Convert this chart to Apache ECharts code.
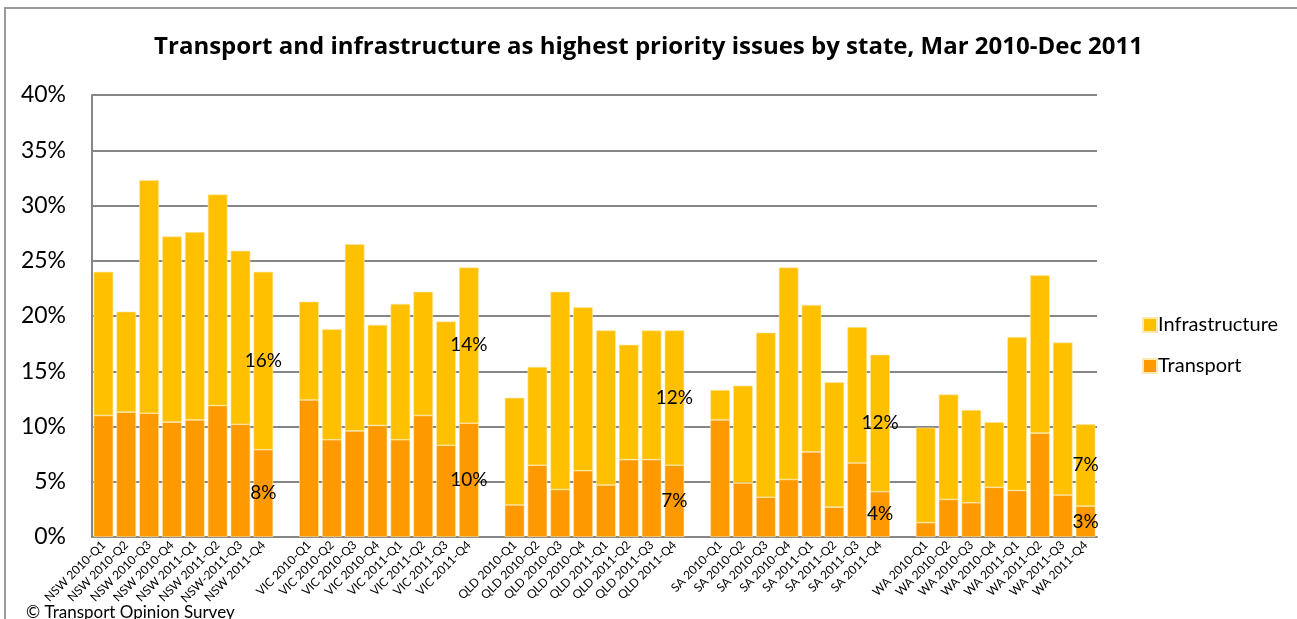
<!DOCTYPE html>
<html>
<head>
<meta charset="utf-8">
<script src="https://cdn.jsdelivr.net/npm/echarts@6/dist/echarts.min.js"></script>
<style>
html,body{margin:0;padding:0;background:#fff;}
#chart{width:1297px;height:619px;}
</style>
</head>
<body>
<div id="chart"></div>
<script>
// ---- data ----
const states = ['NSW', 'VIC', 'QLD', 'SA', 'WA'];
const categories = [
  'NSW 2010-Q1','NSW 2010-Q2','NSW 2010-Q3','NSW 2010-Q4','NSW 2011-Q1','NSW 2011-Q2','NSW-2011-Q3','NSW 2011-Q4',
  'VIC 2010-Q1','VIC 2010-Q2','VIC 2010-Q3','VIC 2010-Q4','VIC 2011-Q1','VIC 2011-Q2','VIC 2011-Q3','VIC 2011-Q4',
  'QLD 2010-Q1','QLD 2010-Q2','QLD 2010-Q3','QLD 2010-Q4','QLD 2011-Q1','QLD 2011-Q2','QLD 2011-Q3','QLD 2011-Q4',
  'SA 2010-Q1','SA 2010-Q2','SA 2010-Q3','SA 2010-Q4','SA 2011-Q1','SA 2011-Q2','SA 2011-Q3','SA 2011-Q4',
  'WA 2010-Q1','WA 2010-Q2','WA 2010-Q3','WA 2010-Q4','WA 2011-Q1','WA 2011-Q2','WA 2011-Q3','WA 2011-Q4'
];
const transport = [
  11.0, 11.3, 11.2, 10.4, 10.6, 11.9, 10.2, 7.9,
  12.4, 8.8, 9.6, 10.1, 8.8, 11.0, 8.3, 10.3,
  2.9, 6.5, 4.3, 6.0, 4.7, 7.0, 7.0, 6.5,
  10.6, 4.9, 3.6, 5.2, 7.7, 2.7, 6.7, 4.1,
  1.3, 3.4, 3.1, 4.5, 4.2, 9.4, 3.8, 2.8
];
const infrastructure = [
  13.0, 9.1, 21.1, 16.8, 17.0, 19.1, 15.7, 16.1,
  8.9, 10.0, 16.9, 9.1, 12.3, 11.2, 11.2, 14.1,
  9.7, 8.9, 17.9, 14.8, 14.0, 10.4, 11.7, 12.2,
  2.7, 8.8, 14.9, 19.2, 13.3, 11.3, 12.3, 12.4,
  8.6, 9.5, 8.4, 5.9, 13.9, 14.3, 13.8, 7.4
];
const yTicks = [0, 5, 10, 15, 20, 25, 30, 35, 40];
const titleText = 'Transport and infrastructure as highest priority issues by state, Mar 2010-Dec 2011';
const sourceText = '\u00A9 Transport Opinion Survey';

// ---- build axis slots with a blank slot between states ----
const perState = 8;
const axisCats = [];
const tData = [];
const iData = [];
states.forEach((s, si) => {
  if (si > 0) {
    axisCats.push(' '.repeat(si));
    tData.push('-');
    iData.push('-');
  }
  for (let q = 0; q < perState; q++) {
    const k = si * perState + q;
    const last = q === perState - 1;
    axisCats.push(categories[k]);
    tData.push({ value: transport[k], label: { show: last } });
    iData.push({ value: infrastructure[k], label: { show: last } });
  }
});

const FONT = 'Lato, "Open Sans", sans-serif';
const labelCfg = {
  position: 'inside',
  color: '#000',
  fontSize: 19,
  fontFamily: FONT,
  formatter: p => Math.round(p.value) + '%'
};

const chart = echarts.init(document.getElementById('chart'), null, { renderer: 'canvas' });
chart.setOption({
  backgroundColor: '#fff',
  animation: false,
  title: {
    text: titleText,
    left: 'center',
    top: 30,
    textStyle: { fontFamily: '"Open Sans", Lato, sans-serif', fontWeight: 'bold', fontSize: 24, color: '#000' }
  },
  legend: {
    orient: 'vertical',
    left: 1137,
    top: 310,
    itemWidth: 14,
    itemHeight: 14,
    itemGap: 21,
    icon: 'rect',
    data: ['Infrastructure', 'Transport'],
    textStyle: { fontFamily: FONT, fontSize: 20, color: '#000', padding: [0, 0, 0, -4] }
  },
  grid: { left: 92, right: 200, top: 95, bottom: 82, containLabel: false },
  xAxis: {
    type: 'category',
    data: axisCats,
    axisLine: { show: true, lineStyle: { color: '#868686', width: 2 } },
    axisTick: { show: false },
    axisLabel: {
      interval: 0,
      rotate: 45,
      fontFamily: FONT,
      fontSize: 12,
      color: '#000',
      margin: 6
    }
  },
  yAxis: {
    type: 'value',
    min: yTicks[0],
    max: yTicks[yTicks.length - 1],
    interval: yTicks[1] - yTicks[0],
    axisLine: { show: true, lineStyle: { color: '#868686', width: 2 } },
    axisTick: { show: false },
    splitLine: { lineStyle: { color: '#868686', width: 2 } },
    axisLabel: {
      formatter: '{value}%',
      fontFamily: FONT,
      fontSize: 23,
      color: '#000',
      margin: 26
    }
  },
  series: [
    {
      name: 'Transport',
      type: 'bar',
      stack: 'total',
      barCategoryGap: '14%',
      itemStyle: { color: '#FF9900', borderColor: '#FFE9B0', borderWidth: 0.6 },
      label: labelCfg,
      data: tData
    },
    {
      name: 'Infrastructure',
      type: 'bar',
      stack: 'total',
      barCategoryGap: '14%',
      itemStyle: { color: '#FFC000', borderColor: '#FFE9B0', borderWidth: 0.6 },
      label: labelCfg,
      data: iData
    }
  ],
  graphic: [
    {
      type: 'rect',
      shape: { x: 5, y: 8, width: 1400, height: 700 },
      style: { fill: 'none', stroke: '#9a9a9a', lineWidth: 2 },
      silent: true,
      z: -1
    },
    {
      type: 'text',
      left: 26,
      top: 604,
      style: { text: sourceText, fontFamily: FONT, fontSize: 17, fill: '#000' }
    }
  ]
});
</script>
</body>
</html>
